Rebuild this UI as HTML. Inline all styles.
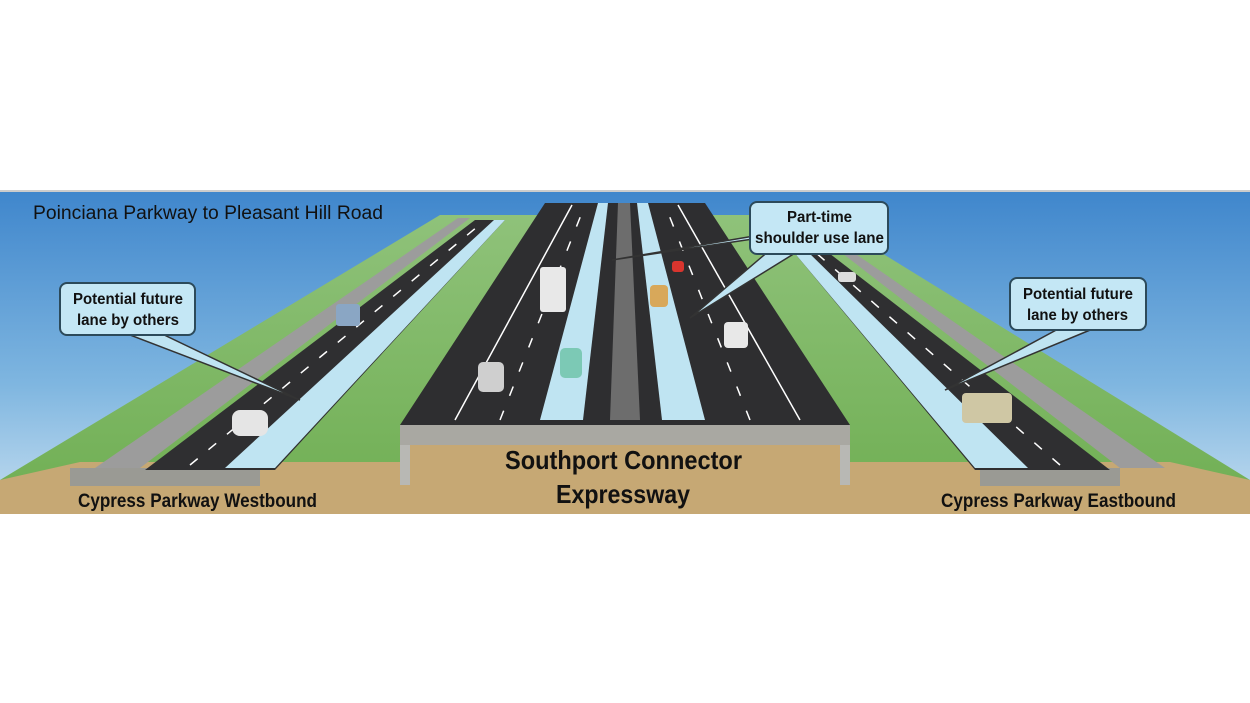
<!DOCTYPE html>
<html><head><meta charset="utf-8">
<style>
html,body{margin:0;padding:0;background:#fff;}
body{width:1250px;height:703px;overflow:hidden;}
svg{display:block;}
text{font-family:"Liberation Sans",Arial,sans-serif;}
</style></head><body>
<svg width="1250" height="703" viewBox="0 0 1250 703" xmlns="http://www.w3.org/2000/svg">
<defs>
<linearGradient id="sky" x1="0" y1="0" x2="0" y2="1">
<stop offset="0" stop-color="#3f86cc"/><stop offset="0.6" stop-color="#7fb6e0"/><stop offset="1" stop-color="#c5def0"/>
</linearGradient>
<linearGradient id="grass" x1="0" y1="0" x2="0" y2="1">
<stop offset="0" stop-color="#8fc27a"/><stop offset="1" stop-color="#6fae52"/>
</linearGradient>
</defs>
<rect x="0" y="190" width="1250" height="324" fill="url(#sky)"/>
<rect x="0" y="190" width="1250" height="2" fill="#ccc"/>
<polygon points="0,480 440,215 820,215 1250,480 1250,514 0,514" fill="url(#grass)"/>
<polygon points="0,480 80,462 1170,462 1250,480 1250,514 0,514" fill="#c6a874"/>
<rect x="70" y="468" width="190" height="18" fill="#9a9a94"/>
<rect x="980" y="468" width="140" height="18" fill="#9a9a94"/>
<polygon points="95,468 140,468 470,218 458,218" fill="#9c9c9c"/>
<polygon points="145,470 275,470 505,220 475,220" fill="#2f2f31"/>
<polygon points="225,468 275,468 505,220 494,220" fill="#bfe4f2"/>
<line x1="190" y1="465" x2="483" y2="222" stroke="#fff" stroke-width="1.5" stroke-dasharray="10,14"/>
<polygon points="1120,468 1165,468 850,250 838,250" fill="#9c9c9c"/>
<polygon points="975,470 1110,470 825,250 792,250" fill="#2f2f31"/>
<polygon points="975,468 1028,468 806,250 792,250" fill="#bfe4f2"/>
<line x1="1060" y1="465" x2="815" y2="252" stroke="#fff" stroke-width="1.5" stroke-dasharray="10,14"/>
<polygon points="400,425 850,425 850,485 840,485 840,445 410,445 410,485 400,485" fill="#b8b8b4"/>
<polygon points="410,445 840,445 840,485 410,485" fill="#c6a874"/>
<rect x="400" y="425" width="450" height="20" fill="#a9a8a2"/>
<polygon points="400,425 545,203 705,203 850,425" fill="#2e2e30"/>
<polygon points="540,420 583,420 608,203 598,203" fill="#bfe4f2"/>
<polygon points="662,420 705,420 648,203 637,203" fill="#bfe4f2"/>
<polygon points="610,420 640,420 630,203 618,203" fill="#6d6d6d"/>
<line x1="455" y1="420" x2="572" y2="205" stroke="#fff" stroke-width="1.5"/>
<line x1="800" y1="420" x2="678" y2="205" stroke="#fff" stroke-width="1.5"/>
<line x1="500" y1="420" x2="585" y2="205" stroke="#fff" stroke-width="1.5" stroke-dasharray="10,16"/>
<line x1="750" y1="420" x2="665" y2="205" stroke="#fff" stroke-width="1.5" stroke-dasharray="10,16"/>
<rect x="540" y="267" width="26" height="45" fill="#e8e8e8" rx="3"/>
<rect x="560" y="348" width="22" height="30" fill="#7cc9b5" rx="5"/>
<rect x="478" y="362" width="26" height="30" fill="#cfcfcf" rx="5"/>
<rect x="650" y="285" width="18" height="22" fill="#d8a85a" rx="4"/>
<rect x="672" y="261" width="12" height="11" fill="#d9352e" rx="3"/>
<rect x="724" y="322" width="24" height="26" fill="#e8e8e8" rx="4"/>
<rect x="232" y="410" width="36" height="26" fill="#e5e5e5" rx="8"/>
<rect x="336" y="304" width="24" height="22" fill="#8aa6c4" rx="3"/>
<rect x="962" y="393" width="50" height="30" fill="#cfc7a4" rx="4"/>
<rect x="838" y="272" width="18" height="10" fill="#ddd" rx="3"/>
<polygon points="125,333 160,333 300,400" fill="#bfe4f2" stroke="#333" stroke-width="1.5"/>
<rect x="60" y="283" width="135" height="52" rx="7" fill="#c4e7f5" stroke="#2c4a5a" stroke-width="2"/>
<text x="73" y="304" font-size="16" font-weight="bold" fill="#111" textLength="110" lengthAdjust="spacingAndGlyphs">Potential future</text>
<text x="77" y="325" font-size="16" font-weight="bold" fill="#111" textLength="102" lengthAdjust="spacingAndGlyphs">lane by others</text>
<polygon points="1060,328 1095,328 945,390" fill="#bfe4f2" stroke="#333" stroke-width="1.5"/>
<rect x="1010" y="278" width="136" height="52" rx="7" fill="#c4e7f5" stroke="#2c4a5a" stroke-width="2"/>
<text x="1023" y="299" font-size="16" font-weight="bold" fill="#111" textLength="110" lengthAdjust="spacingAndGlyphs">Potential future</text>
<text x="1027" y="320" font-size="16" font-weight="bold" fill="#111" textLength="101" lengthAdjust="spacingAndGlyphs">lane by others</text>
<polygon points="770,250 800,250 690,318" fill="#bfe4f2" stroke="#333" stroke-width="1.5"/>
<polygon points="760,235 780,235 612,260" fill="#bfe4f2" stroke="#333" stroke-width="1.5"/>
<rect x="750" y="202" width="138" height="52" rx="7" fill="#c4e7f5" stroke="#2c4a5a" stroke-width="2"/>
<text x="787" y="222" font-size="16" font-weight="bold" fill="#111" textLength="65" lengthAdjust="spacingAndGlyphs">Part-time</text>
<text x="755" y="243" font-size="16" font-weight="bold" fill="#111" textLength="129" lengthAdjust="spacingAndGlyphs">shoulder use lane</text>
<text x="33" y="219" font-size="19" fill="#111" textLength="350" lengthAdjust="spacingAndGlyphs">Poinciana Parkway to Pleasant Hill Road</text>
<text x="505" y="469" font-size="26" font-weight="bold" fill="#111" textLength="237" lengthAdjust="spacingAndGlyphs">Southport Connector</text>
<text x="556" y="503" font-size="26" font-weight="bold" fill="#111" textLength="134" lengthAdjust="spacingAndGlyphs">Expressway</text>
<text x="78" y="507" font-size="19" font-weight="bold" fill="#111" textLength="239" lengthAdjust="spacingAndGlyphs">Cypress Parkway Westbound</text>
<text x="941" y="507" font-size="19" font-weight="bold" fill="#111" textLength="235" lengthAdjust="spacingAndGlyphs">Cypress Parkway Eastbound</text>
</svg>
</body></html>
